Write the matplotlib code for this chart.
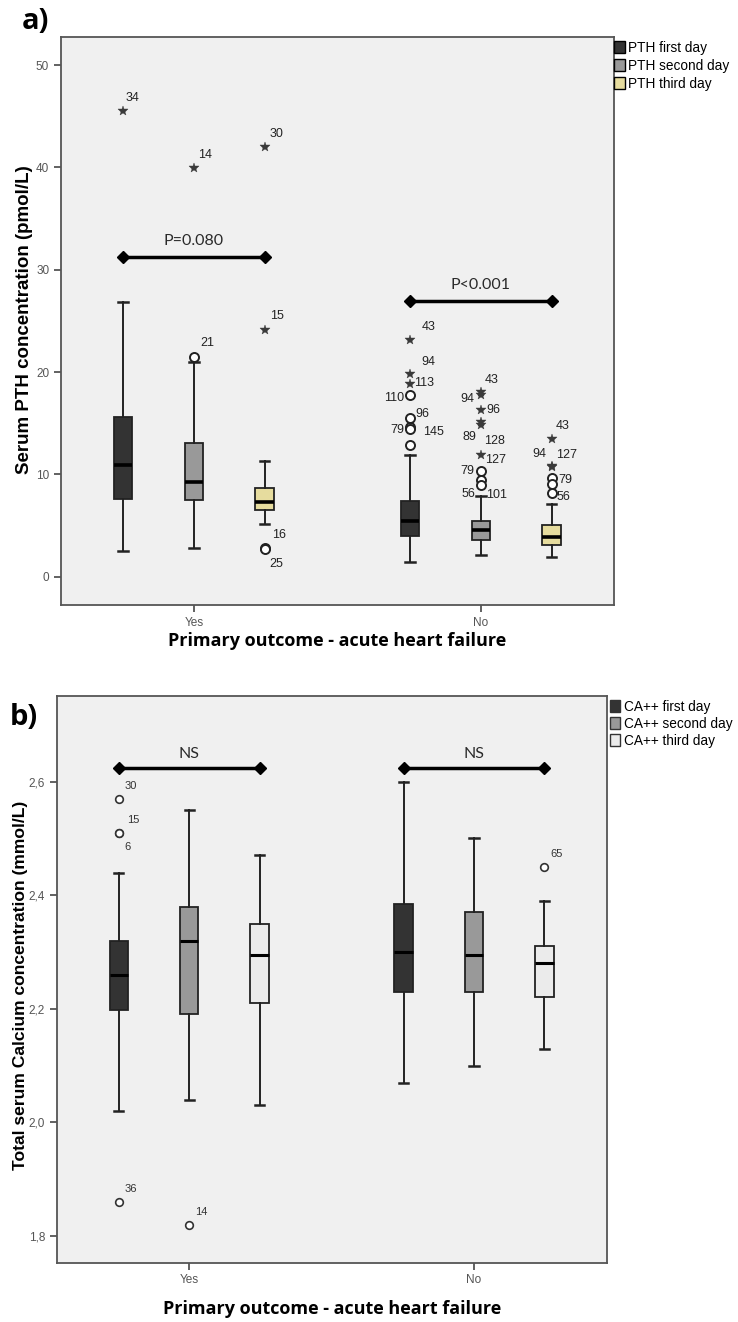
import numpy as np
import matplotlib.pyplot as plt
from matplotlib.patches import Patch

groups = ['Yes', 'No']

# ---- panel a: serum PTH (pmol/L); rows = Yes / No, columns = day 1..3
pth_days = ['PTH first day', 'PTH second day', 'PTH third day']
pth_whislo = [[2.5, 2.8, 5.15], [1.4, 2.1, 1.95]]
pth_q1 = [[7.6, 7.5, 6.5], [4.0, 3.6, 3.1]]
pth_med = [[10.9, 9.2, 7.3], [5.4, 4.6, 3.9]]
pth_q3 = [[15.6, 13.1, 8.7], [7.4, 5.4, 5.05]]
pth_whishi = [[26.8, 21.0, 11.3], [11.9, 7.9, 7.1]]

# outliers: group, day, value, kind ('*' extreme / 'o' outlier), case label
pth_out_grp = [0, 0, 0, 0, 0, 0, 0,
               1, 1, 1, 1, 1, 1, 1, 1,
               1, 1, 1, 1, 1, 1, 1, 1, 1,
               1, 1, 1, 1, 1, 1]
pth_out_day = [0, 1, 2, 2, 1, 2, 2,
               0, 0, 0, 0, 0, 0, 0, 0,
               1, 1, 1, 1, 1, 1, 1, 1, 1,
               2, 2, 2, 2, 2, 2]
pth_out_val = [45.5, 39.9, 42.0, 24.1, 21.5, 2.8, 2.7,
               23.1, 19.8, 18.8, 17.8, 15.5, 14.6, 14.4, 12.9,
               18.0, 17.8, 16.3, 15.1, 14.8, 11.9, 10.3, 9.45, 8.95,
               13.5, 10.8, 10.75, 9.6, 9.1, 8.15]
pth_out_kind = ['*', '*', '*', '*', 'o', 'o', 'o',
                '*', '*', '*', 'o', 'o', 'o', 'o', 'o',
                '*', '*', '*', '*', '*', '*', 'o', 'o', 'o',
                '*', '*', '*', 'o', 'o', 'o']
pth_out_lbl = ['34', '14', '30', '15', '21', '16', '25',
               '43', '94', '113', '110', '96', '79', '145', '',
               '43', '94', '96', '89', '128', '127', '79', '56', '101',
               '43', '127', '94', '79', '', '56']
# where each case label sits relative to its marker (pixels)
pth_lbl_off = [(3, 13), (4, 13), (5, 13), (5, 14), (6, 14), (7, 13), (5, -15),
               (12, 13), (11, 12), (4, 1), (-6, -3), (5, 4), (-6, -3), (13, -3), (0, 0),
               (4, 12), (-7, -4), (5, 0), (-5, -15), (3, -16), (4, -5), (-7, 0), (-6, -14), (5, -10),
               (4, 13), (4, 11), (-5, 13), (7, -2), (0, 0), (5, -4)]

# ---- panel b: total serum calcium (mmol/L)
ca_days = ['CA++ first day', 'CA++ second day', 'CA++ third day']
ca_whislo = [[2.02, 2.04, 2.03], [2.07, 2.10, 2.13]]
ca_q1 = [[2.198, 2.19, 2.21], [2.23, 2.23, 2.22]]
ca_med = [[2.26, 2.32, 2.295], [2.30, 2.295, 2.28]]
ca_q3 = [[2.32, 2.38, 2.35], [2.385, 2.37, 2.31]]
ca_whishi = [[2.44, 2.55, 2.47], [2.60, 2.50, 2.39]]

ca_out_grp = [0, 0, 0, 0, 0, 1]
ca_out_day = [0, 0, 0, 0, 1, 2]
ca_out_val = [2.57, 2.51, 2.51, 1.86, 1.82, 2.45]
ca_out_lbl = ['30', '15', '6', '36', '14', '65']
ca_lbl_off = [(6, 13), (8, 13), (6, -14), (6, 13), (6, 13), (6, 13)]

# significance brackets
pth_sig = ['P=0.080', 'P<0.001']
pth_sig_y = [31.2, 26.9]
ca_sig = ['NS', 'NS']
ca_sig_y = [2.624, 2.624]

day_off = [-0.247, 0.0, 0.247]
box_w = 0.065

pth_colors = ['#333333', '#999999', '#e6dc9e']
ca_colors = ['#333333', '#999999', '#ebebeb']

plt.rcParams['font.family'] = ['Liberation Sans', 'DejaVu Sans']

fig = plt.figure(figsize=(7.38, 13.22), dpi=100)
ax_a = fig.add_axes([0.0827, 0.5424, 0.749, 0.4297])
ax_b = fig.add_axes([0.0772, 0.0449, 0.745, 0.4287])


def draw_panel(ax, whislo, q1, med, q3, whishi, colors, lw_med):
    stats, pos, cols = [], [], []
    for g in range(len(groups)):
        for d in range(3):
            stats.append(dict(whislo=whislo[g][d], q1=q1[g][d], med=med[g][d],
                              q3=q3[g][d], whishi=whishi[g][d], fliers=[]))
            pos.append(g + day_off[d])
            cols.append(colors[d])
    art = ax.bxp(stats, positions=pos, widths=box_w, patch_artist=True,
                 showfliers=False, capwidths=box_w * 0.5,
                 boxprops=dict(edgecolor='#222222', linewidth=1.3),
                 whiskerprops=dict(color='#222222', linewidth=1.4),
                 capprops=dict(color='#222222', linewidth=1.8),
                 medianprops=dict(color='black', linewidth=lw_med))
    for b, c in zip(art['boxes'], cols):
        b.set_facecolor(c)
    ax.set_facecolor('#f0f0f0')
    for s in ax.spines.values():
        s.set_color('#555555')
        s.set_linewidth(1.3)
    ax.tick_params(colors='#555555', labelcolor='#555555', labelsize=8.5,
                   length=5, width=1.3)
    ax.set_xticks(range(len(groups)))
    ax.set_xticklabels(groups)


def draw_sig(ax, texts, ys, pad):
    for g, (t, y) in enumerate(zip(texts, ys)):
        ax.plot([g + day_off[0], g + day_off[2]], [y, y], color='black', lw=2.5,
                marker='D', ms=6, zorder=5)
        ax.text(g, y + pad, t, ha='center', va='bottom', fontsize=11.5,
                family='Lato', color='#2a2a2a')


# ---- panel a
draw_panel(ax_a, pth_whislo, pth_q1, pth_med, pth_q3, pth_whishi, pth_colors, 2.6)
ax_a.set_xlim(-0.463, 1.463)
ax_a.set_ylim(-2.77, 52.76)
ax_a.set_yticks([0, 10, 20, 30, 40, 50])
for g, d, v, k, lab, off in zip(pth_out_grp, pth_out_day, pth_out_val,
                                pth_out_kind, pth_out_lbl, pth_lbl_off):
    x = g + day_off[d]
    if k == '*':
        ax_a.plot(x, v, marker='*', ms=7, color='#3a3a3a', mec='#3a3a3a',
                  mew=0.3, zorder=4)
    else:
        ax_a.plot(x, v, marker='o', ms=6.5, mfc='white', mec='#222222', mew=1.4, zorder=4)
    if lab:
        ax_a.annotate(lab, (x, v), xytext=off, textcoords='offset pixels',
                      ha='right' if off[0] < 0 else 'left', va='center',
                      fontsize=9, color='#222222')
draw_sig(ax_a, pth_sig, pth_sig_y, 0.9)
ax_a.set_ylabel('Serum PTH concentration (pmol/L)', fontsize=13.5,
                fontweight='bold')
ax_a.yaxis.set_label_coords(-0.05, 0.503)
ax_a.set_xlabel('Primary outcome - acute heart failure', fontsize=13,
                fontweight='bold', family='Open Sans')
ax_a.xaxis.set_label_coords(0.5, -0.047)
ax_a.legend(handles=[Patch(facecolor=c, edgecolor='black', label=l)
                     for c, l in zip(pth_colors, pth_days)],
            loc='upper left', bbox_to_anchor=(0.832, 0.9692),
            bbox_transform=fig.transFigure, frameon=False, fontsize=9.8,
            handlelength=0.8, handleheight=0.95, handletextpad=0.25,
            labelspacing=0.3, borderpad=0, borderaxespad=0)

# ---- panel b
draw_panel(ax_b, ca_whislo, ca_q1, ca_med, ca_q3, ca_whishi, ca_colors, 2.2)
ax_b.set_xlim(-0.464, 1.466)
ax_b.set_ylim(1.753, 2.751)
ax_b.set_yticks([1.8, 2.0, 2.2, 2.4, 2.6])
ax_b.set_yticklabels(['1,8', '2,0', '2,2', '2,4', '2,6'])
for g, d, v, lab, off in zip(ca_out_grp, ca_out_day, ca_out_val, ca_out_lbl, ca_lbl_off):
    x = g + day_off[d]
    ax_b.plot(x, v, marker='o', ms=5.5, mfc='white', mec='#333333', mew=1.2, zorder=4)
    ax_b.annotate(lab, (x, v), xytext=off, textcoords='offset pixels',
                  ha='left', va='center', fontsize=8, color='#333333')
draw_sig(ax_b, ca_sig, ca_sig_y, 0.012)
ax_b.set_ylabel('Total serum Calcium concentration (mmol/L)', fontsize=12.6,
                fontweight='bold')
ax_b.yaxis.set_label_coords(-0.053, 0.49)
ax_b.set_xlabel('Primary outcome - acute heart failure', fontsize=13,
                fontweight='bold', family='Open Sans')
ax_b.xaxis.set_label_coords(0.5, -0.066)
ax_b.legend(handles=[Patch(facecolor=c, edgecolor='#333333', label=l)
                     for c, l in zip(ca_colors, ca_days)],
            loc='upper left', bbox_to_anchor=(0.826, 0.4705),
            bbox_transform=fig.transFigure, frameon=False, fontsize=9.8,
            handlelength=0.8, handleheight=0.95, handletextpad=0.25,
            labelspacing=0.22, borderpad=0, borderaxespad=0)

fig.text(0.03, 0.9834, 'a)', fontsize=21, fontweight='bold', family='Open Sans',
         va='center', ha='left')
fig.text(0.013, 0.4569, 'b)', fontsize=21, fontweight='bold', family='Open Sans',
         va='center', ha='left')

fig.savefig('out.png', dpi=100)
